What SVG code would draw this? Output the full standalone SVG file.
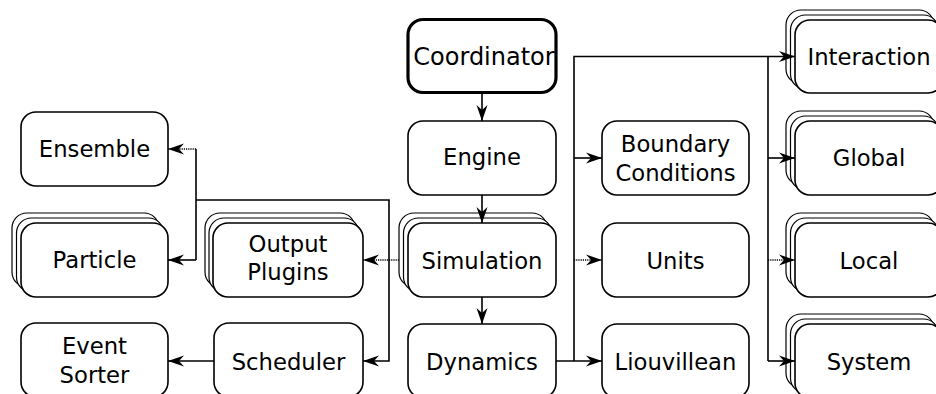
<svg xmlns="http://www.w3.org/2000/svg" width="936" height="394" viewBox="0 0 936 394">
<style>
.box{fill:#fff;stroke:#000;stroke-width:1.6}
.stk{fill:#fff;stroke:#000;stroke-width:1.2}
.thick{fill:#fff;stroke:#000;stroke-width:3.2}
text{font-family:"DejaVu Sans",sans-serif;font-size:22.7px;text-anchor:middle;fill:#000}
.ln{fill:none;stroke:#000;stroke-width:1.6}
.dot{stroke-dasharray:1.2 1}
</style>
<defs>
<marker id="ah" markerUnits="userSpaceOnUse" viewBox="-17 -7 18 14" refX="0" refY="0" markerWidth="18" markerHeight="14" orient="auto" overflow="visible">
<path d="M0,0 L-16,-5.5 L-11,0 L-16,5.5 Z" fill="#000"/>
</marker>
</defs>
<rect width="936" height="394" fill="#fff"/>
<g id="coordinator">
<rect class="thick" x="408" y="19.5" width="148" height="73" rx="15"/>
<text x="484" y="65" style="font-size:24px">Coordinator</text>
</g>
<g id="engine">
<rect class="box" x="408" y="121" width="148" height="74" rx="15"/>
<text x="482" y="165">Engine</text>
</g>
<g id="simulation">
<rect class="stk" x="399" y="213" width="148" height="74" rx="15"/>
<rect class="stk" x="403.5" y="218" width="148" height="74" rx="15"/>
<rect class="box" x="408" y="223" width="148" height="74" rx="15"/>
<text x="482" y="268.5">Simulation</text>
</g>
<g id="dynamics">
<rect class="box" x="408" y="324" width="148" height="74" rx="15"/>
<text x="482" y="369.5">Dynamics</text>
</g>
<g id="ensemble">
<rect class="box" x="21" y="112" width="147" height="74" rx="15"/>
<text x="94.5" y="157.3">Ensemble</text>
</g>
<g id="particle">
<rect class="stk" x="12" y="213" width="147" height="74" rx="15"/>
<rect class="stk" x="16.5" y="218" width="147" height="74" rx="15"/>
<rect class="box" x="21" y="223" width="147" height="74" rx="15"/>
<text x="94.5" y="268.3">Particle</text>
</g>
<g id="output-plugins">
<rect class="stk" x="205" y="213" width="150" height="74" rx="15"/>
<rect class="stk" x="209" y="218" width="150" height="74" rx="15"/>
<rect class="box" x="213" y="223" width="150" height="74" rx="15"/>
<text x="288" y="251.5">Output</text>
<text x="288" y="280">Plugins</text>
</g>
<g id="event-sorter">
<rect class="box" x="21" y="323" width="147" height="74" rx="15"/>
<text x="94.5" y="354">Event</text>
<text x="94.5" y="383">Sorter</text>
</g>
<g id="scheduler">
<rect class="box" x="214" y="323" width="149" height="74" rx="15"/>
<text x="288.5" y="369.5">Scheduler</text>
</g>
<g id="boundary-conditions">
<rect class="box" x="602" y="121" width="147" height="74" rx="15"/>
<text x="675.5" y="152">Boundary</text>
<text x="675.5" y="181">Conditions</text>
</g>
<g id="units">
<rect class="box" x="602" y="223" width="147" height="74" rx="15"/>
<text x="675.5" y="268.5">Units</text>
</g>
<g id="liouvillean">
<rect class="box" x="602" y="324" width="147" height="74" rx="15"/>
<text x="675.5" y="369.5">Liouvillean</text>
</g>
<g id="interaction">
<rect class="stk" x="786" y="10" width="148" height="74" rx="15"/>
<rect class="stk" x="790.5" y="15" width="148" height="74" rx="15"/>
<rect class="box" x="795" y="20" width="148" height="73" rx="15"/>
<text x="869" y="65">Interaction</text>
</g>
<g id="global">
<rect class="stk" x="786" y="111" width="148" height="74" rx="15"/>
<rect class="stk" x="790.5" y="116" width="148" height="74" rx="15"/>
<rect class="box" x="795" y="121" width="148" height="74" rx="15"/>
<text x="869" y="166">Global</text>
</g>
<g id="local">
<rect class="stk" x="786" y="213" width="148" height="74" rx="15"/>
<rect class="stk" x="790.5" y="218" width="148" height="74" rx="15"/>
<rect class="box" x="795" y="223" width="148" height="74" rx="15"/>
<text x="869" y="268.5">Local</text>
</g>
<g id="system">
<rect class="stk" x="786" y="314" width="148" height="74" rx="15"/>
<rect class="stk" x="790.5" y="319" width="148" height="74" rx="15"/>
<rect class="box" x="795" y="324" width="148" height="74" rx="15"/>
<text x="869" y="369.5">System</text>
</g>
<g id="connectors">
<path class="ln" d="M482,94 L482,121" marker-end="url(#ah)"/>
<path class="ln" d="M482,195 L482,223" marker-end="url(#ah)"/>
<path class="ln" d="M482,297 L482,324" marker-end="url(#ah)"/>
<path class="ln dot" d="M399,260 L363,260" marker-end="url(#ah)"/>
<path class="ln" d="M196,149 L196,260"/>
<path class="ln dot" d="M196,149 L168,149" marker-end="url(#ah)"/>
<path class="ln" d="M196,260 L168,260" marker-end="url(#ah)"/>
<path class="ln" d="M196,200 L389,200 L389,361 L363,361" marker-end="url(#ah)"/>
<path class="ln" d="M214,361 L168,361" marker-end="url(#ah)"/>
<path class="ln" d="M556,361 L602,361" marker-end="url(#ah)"/>
<path class="ln" d="M574,361 L574,56.5 L795,56.5" marker-end="url(#ah)"/>
<path class="ln" d="M574,158 L602,158" marker-end="url(#ah)"/>
<path class="ln dot" d="M574,260 L602,260" marker-end="url(#ah)"/>
<path class="ln" d="M768,56.5 L768,361"/>
<path class="ln" d="M768,158 L795,158" marker-end="url(#ah)"/>
<path class="ln dot" d="M768,260 L795,260" marker-end="url(#ah)"/>
<path class="ln" d="M768,361 L795,361" marker-end="url(#ah)"/>
</g>
</svg>
